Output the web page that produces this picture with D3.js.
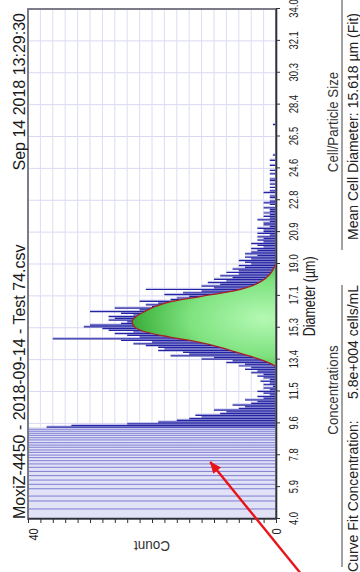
<!DOCTYPE html>
<html>
<head>
<meta charset="utf-8">
<script src="https://cdn.jsdelivr.net/npm/d3@7"></script>
<style>
  body { margin: 0; background: #fff; }
  svg { display: block; font-family: "Liberation Sans", Arial, sans-serif; }
</style>
</head>
<body>
<svg id="chart" width="360" height="572"></svg>
<script>
// ---- data ----
const titleText = "MoxiZ-4450 - 2018-09-14 - Test 74.csv";
const dateText = "Sep 14 2018 13:29:30";

const diamTicks = [4, 5.875, 7.75, 9.625, 11.5, 13.375, 15.25, 17.125, 19, 20.875, 22.75, 24.625, 26.5, 28.375, 30.25, 32.125, 34];
const diamLabels = ["4.0", "5.9", "7.8", "9.6", "11.5", "13.4", "15.3", "17.1", "19.0", "20.9", "22.8", "24.6", "26.5", "28.4", "30.3", "32.1", "34.0"];
const countTicks = [0, 2, 4, 6, 8, 10, 12, 14, 16, 18, 20, 22, 24, 26, 28, 30, 32, 34, 36, 38, 40];
const countLabels = [0, 40];

// debris bins below ~9.4 um (wide bins, all above the 40 count ceiling)
const debrisEdges = [4.0, 4.59, 5.06, 5.35, 5.78, 6.04, 6.29, 6.55, 6.8, 7.04, 7.24, 7.43, 7.61, 7.76, 7.92, 8.06, 8.22, 8.35, 8.49, 8.65, 8.78, 8.92, 9.04, 9.16, 9.28];
const debrisCounts = [310, 240, 190, 170, 150, 140, 128, 120, 112, 104, 98, 92, 88, 84, 80, 76, 72, 70, 66, 62, 60, 57, 55, 52, 48];

// fine bins, 0.1 um wide, starting at 9.4 um
const binStart = 9.4;
const binWidth = 0.1;
const counts = [
  37, 33, 24, 19, 16, 14, 12, 13, 9, 8,
  10, 6, 5, 7, 4, 3, 5, 2, 3, 1,
  2, 3, 1, 2, 0.5, 2, 1, 2.5, 1, 2,
  3, 2, 4, 3, 5, 4, 6, 5, 8, 7,
  12, 10, 17, 14, 15, 19, 18, 19, 21, 23,
  20, 25, 36, 22, 24, 26, 23, 27, 28, 31,
  30, 25, 24, 27, 26, 27, 23, 25, 30, 22,
  26, 20, 21, 19, 22, 17, 16, 14, 18, 15,
  12, 21, 10, 12, 9, 11, 8, 10, 7, 9,
  6, 8, 6, 7, 5, 6, 4, 5, 6, 4,
  5, 3, 5, 4, 3, 4, 2, 3, 4, 2,
  3, 2, 3, 1, 3, 2, 2, 3, 1, 2,
  2, 1, 3, 1, 2, 1, 2, 1, 1, 2,
  0, 1, 2, 1, 0, 1, 1, 0, 2, 1,
  0, 1, 0, 1, 0, 1, 1, 0, 0, 1,
  0, 1, 0, 0, 1, 0, 0, 1, 0, 0,
  0.5, 0, 0, 0, 0, 0, 0, 0, 0, 0,
  0, 0, 0, 0, 0, 0, 0, 0, 0.5
];

// curve fit
const fitDiam = [9.6, 12.6, 12.9, 13.2, 13.5, 13.8, 14.1, 14.4, 14.7, 15.0, 15.3, 15.6, 15.9, 16.2, 16.5, 16.8, 17.1, 17.4, 17.7, 18.0, 18.4, 18.8, 19.1, 22.8];
const fitCount = [0, 0, 0, 1.2, 3.5, 6.3, 9, 12.5, 17.1, 21, 22.8, 23.2, 22.6, 21.2, 19.5, 16.8, 12, 7, 4, 2.3, 1, 0.3, 0, 0];

const concLabel = "Curve Fit Concentration:";
const concValue = "5.8e+004 cells/mL";
const sizeLabel = "Mean Cell Diameter:";
const sizeValue = "15.618 \u00b5m (Fit)";

// red annotation arrow, in data units (tail runs off the page)
const arrowTail = {d: 0.7, count: -4.2};
const arrowTip = {d: 7.35, count: 10.6};

// ---- layout: chart drawn landscape, then turned a quarter left ----
const W = 572, H = 360;
const margin = {left: 53, right: 9, top: 28, bottom: 84};

const x = d3.scaleLinear().domain([4, 34]).range([margin.left, W - margin.right]);
const y = d3.scaleLinear().domain([0, 40]).range([H - margin.bottom, margin.top]);

const svg = d3.select("#chart");
const defs = svg.append("defs");

defs.append("clipPath").attr("id", "plotClip")
  .append("rect")
  .attr("x", x(4)).attr("y", y(40))
  .attr("width", x(34) - x(4)).attr("height", y(0) - y(40));

// green shading of the fit, light in the middle and dark at the rim
const grad = defs.append("radialGradient")
  .attr("id", "fitGrad")
  .attr("gradientUnits", "userSpaceOnUse")
  .attr("cx", x(15.8)).attr("cy", y(2))
  .attr("r", 150)
  .attr("gradientTransform", `translate(${x(15.8)},${y(2)}) scale(0.5,1) translate(${-x(15.8)},${-y(2)})`);
grad.append("stop").attr("offset", 0).attr("stop-color", "#b4f9b4");
grad.append("stop").attr("offset", 0.5).attr("stop-color", "#7ee27e");
grad.append("stop").attr("offset", 0.8).attr("stop-color", "#46b846");
grad.append("stop").attr("offset", 1).attr("stop-color", "#2a8f2a");

defs.append("marker")
  .attr("id", "arrowHead")
  .attr("viewBox", "0 0 12 10")
  .attr("refX", 11).attr("refY", 5)
  .attr("markerWidth", 13).attr("markerHeight", 10)
  .attr("markerUnits", "userSpaceOnUse")
  .attr("orient", "auto")
  .append("path").attr("d", "M0,0 L12,5 L0,10 Z").attr("fill", "#e8141a");

const g = svg.append("g").attr("transform", `translate(0,${W}) rotate(-90)`);

// grid
g.append("g").selectAll("line").data(diamTicks).join("line")
  .attr("x1", d => x(d)).attr("x2", d => x(d))
  .attr("y1", y(0)).attr("y2", y(40))
  .attr("stroke", "#d9d9f3");
g.append("g").selectAll("line").data(countTicks).join("line")
  .attr("x1", x(4)).attr("x2", x(34))
  .attr("y1", d => y(d)).attr("y2", d => y(d))
  .attr("stroke", "#dcdcf4");

// histogram bins
const bins = debrisEdges.map((d0, i) => ({
  d0: d0,
  d1: i < debrisEdges.length - 1 ? debrisEdges[i + 1] : binStart,
  c: debrisCounts[i]
})).concat(counts.map((c, i) => ({
  d0: binStart + i * binWidth,
  d1: binStart + (i + 1) * binWidth,
  c: c
})));

// bars over the ceiling are drawn paler, like the instrument does
const barG = g.append("g").attr("clip-path", "url(#plotClip)");
barG.selectAll("rect").data(bins.filter(b => b.c > 0)).join("rect")
  .attr("x", b => x(b.d0))
  .attr("width", b => x(b.d1) - x(b.d0))
  .attr("y", b => y(Math.min(b.c, 40)))
  .attr("height", b => y(0) - y(Math.min(b.c, 40)))
  .attr("fill", b => b.c > 40 ? "#e2e2f7" : "#c4c4ee");
barG.selectAll("line").data(bins.filter(b => b.c > 0 && b.d0 > 4)).join("line")
  .attr("x1", b => x(b.d0)).attr("x2", b => x(b.d0))
  .attr("y1", y(0))
  .attr("y2", b => y(Math.min(b.c, 40)))
  .attr("stroke", b => b.c > 40 ? "#7c7cd4" : "#2424a2")
  .attr("stroke-width", b => b.c > 40 ? 1 : 1.2);

// curve fit
const fitPts = fitDiam.map((d, i) => [d, fitCount[i]]);
g.append("path")
  .datum(fitPts)
  .attr("d", d3.area().x(p => x(p[0])).y0(y(0)).y1(p => y(p[1])).curve(d3.curveMonotoneX))
  .attr("fill", "url(#fitGrad)");
g.append("path")
  .datum(fitPts)
  .attr("d", d3.line().x(p => x(p[0])).y(p => y(p[1])).curve(d3.curveMonotoneX))
  .attr("fill", "none")
  .attr("stroke", "#a82222")
  .attr("stroke-width", 1.3);

// frame
g.append("rect")
  .attr("x", x(4)).attr("y", y(40))
  .attr("width", x(34) - x(4)).attr("height", y(0) - y(40))
  .attr("fill", "none")
  .attr("stroke", "#70707c")
  .attr("stroke-width", 1.8);

// axes
const xAxis = d3.axisBottom(x)
  .tickValues(diamTicks)
  .tickFormat((d, i) => diamLabels[i])
  .tickSize(4).tickSizeOuter(0).tickPadding(8);
const xAxisG = g.append("g")
  .attr("transform", `translate(0,${y(0)})`)
  .call(xAxis);
xAxisG.select(".domain").attr("stroke", "#30303a").attr("stroke-width", 1.6);
xAxisG.selectAll(".tick line").attr("stroke", "#30303a");
xAxisG.selectAll(".tick text")
  .attr("fill", "#222")
  .style("font-size", "13.5px")
  .style("font-family", "'Liberation Sans', Arial, sans-serif")
  .attr("transform", "scale(0.7,1)");

const yAxis = d3.axisLeft(y)
  .tickValues(countTicks)
  .tickFormat(d => countLabels.includes(d) ? d : "")
  .tickSize(4).tickSizeOuter(0).tickPadding(7);
const yAxisG = g.append("g")
  .attr("transform", `translate(${x(4)},0)`)
  .call(yAxis);
yAxisG.select(".domain").attr("stroke", "#30303a").attr("stroke-width", 1.6);
yAxisG.selectAll(".tick line").attr("stroke", "#30303a");
yAxisG.selectAll(".tick text")
  .attr("fill", "#222")
  .style("font-size", "13px")
  .style("font-family", "'Liberation Sans', Arial, sans-serif")
  .attr("transform", "scale(0.85,1)")
  .attr("dy", d => d === 40 ? "0.72em" : "0.32em");

// titles
g.append("text")
  .attr("x", x(4)).attr("y", 25)
  .attr("fill", "#1a1a1a")
  .style("font-size", "16px")
  .text(titleText);
g.append("text")
  .attr("x", 559).attr("y", 25)
  .attr("text-anchor", "end")
  .attr("fill", "#1a1a1a")
  .style("font-size", "16px")
  .text(dateText);

g.append("text")
  .attr("transform", `translate(${x(17.1)},315) scale(0.78,1)`)
  .attr("text-anchor", "middle")
  .attr("fill", "#222")
  .style("font-size", "16px")
  .text("Diameter (\u00b5m)");

g.append("text")
  .attr("transform", `translate(31,${(y(0) + y(40)) / 2}) rotate(-90) scale(0.9,1)`)
  .attr("text-anchor", "middle")
  .attr("fill", "#333")
  .style("font-size", "15px")
  .text("Count");

// result panels under the chart
const panels = [
  {head: "Concentrations", cx: 182, x0: 5, x1: 287, label: concLabel, lx: 0, vx: 287, value: concValue},
  {head: "Cell/Particle Size", cx: 450, x0: 322, x1: 572, label: sizeLabel, lx: 332, vx: 559, value: sizeValue}
];
panels.forEach(p => {
  g.append("text")
    .attr("transform", `translate(${p.cx},338) scale(0.95,1)`)
    .attr("text-anchor", "middle")
    .attr("fill", "#333")
    .style("font-size", "14px")
    .text(p.head);
  g.append("line")
    .attr("x1", p.x0).attr("x2", p.x1)
    .attr("y1", 342).attr("y2", 342)
    .attr("stroke", "#444").attr("stroke-width", 1);
  g.append("text")
    .attr("x", p.lx).attr("y", 358)
    .attr("fill", "#222")
    .style("font-size", "14px")
    .text(p.label);
  g.append("text")
    .attr("x", p.vx).attr("y", 358)
    .attr("text-anchor", "end")
    .attr("fill", "#222")
    .style("font-size", "14px")
    .text(p.value);
});

// annotation arrow
g.append("line")
  .attr("x1", x(arrowTail.d)).attr("y1", y(arrowTail.count))
  .attr("x2", x(arrowTip.d)).attr("y2", y(arrowTip.count))
  .attr("stroke", "#e8141a")
  .attr("stroke-width", 2.4)
  .attr("marker-end", "url(#arrowHead)");
</script>
</body>
</html>
